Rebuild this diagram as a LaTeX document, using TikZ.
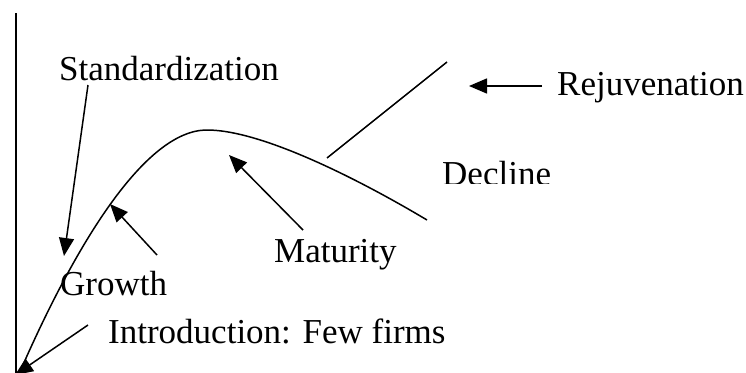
\documentclass[tikz,border=0pt]{standalone}
\usepackage{fontspec}
\setmainfont{Liberation Serif}
\usetikzlibrary{arrows.meta}
\begin{document}
\begin{tikzpicture}[x=1pt,y=-1pt,
  lbl/.style={anchor=base west,inner sep=0pt,font=\fontsize{35}{41}\selectfont},
  axisline/.style={line width=1.8pt},
  curveline/.style={line width=1.5pt},
  ptr/.style={line width=1.5pt,-{Triangle[length=18pt,width=15pt]}},
  plainline/.style={line width=1.5pt}]
\useasboundingbox (0,0) rectangle (746,372);

% vertical axis
\coordinate (axtop) at (16,13);
\coordinate (axbot) at (16,374);
\draw[axisline] (axtop) -- (axbot);

% life-cycle curve
\coordinate (c0) at (19,374);
\coordinate (peak) at (207,130);
\coordinate (cend) at (427,220);
\draw[curveline] (c0) .. controls (75,245) and (145,130) .. (peak)
  .. controls (262,130) and (360,180) .. (cend);

% rejuvenation branch
\coordinate (rj0) at (327,158);
\coordinate (rj1) at (447,62);
\draw[plainline] (rj0) -- (rj1);

% labels
\node[lbl] (std) at (59,80) {Standardization};
\node[lbl] (gro) at (60,295) {Growth};
\node[lbl] (intro) at (108,343) {Introduction: Few firms};
\node[lbl] (mat) at (274,262) {Maturity};
\node[lbl] (rej) at (557,95) {Rejuvenation};
\begin{scope}
  \clip (430,150) rectangle (600,183);
  \node[lbl] (dec) at (442,185) {Decline};
\end{scope}

% pointers
\coordinate (stdT) at (88,85);   \coordinate (stdH) at (64,256);
\coordinate (groT) at (157,255); \coordinate (groH) at (110,204);
\coordinate (matT) at (303,230); \coordinate (matH) at (229,155);
\coordinate (intT) at (88,325);  \coordinate (intH) at (15,375);
\coordinate (rejT) at (542,86);  \coordinate (rejH) at (469,86);
\draw[ptr] (stdT) -- (stdH);
\draw[ptr] (groT) -- (groH);
\draw[ptr] (matT) -- (matH);
\draw[ptr] (intT) -- (intH);
\draw[ptr] (rejT) -- (rejH);
\end{tikzpicture}
\end{document}
